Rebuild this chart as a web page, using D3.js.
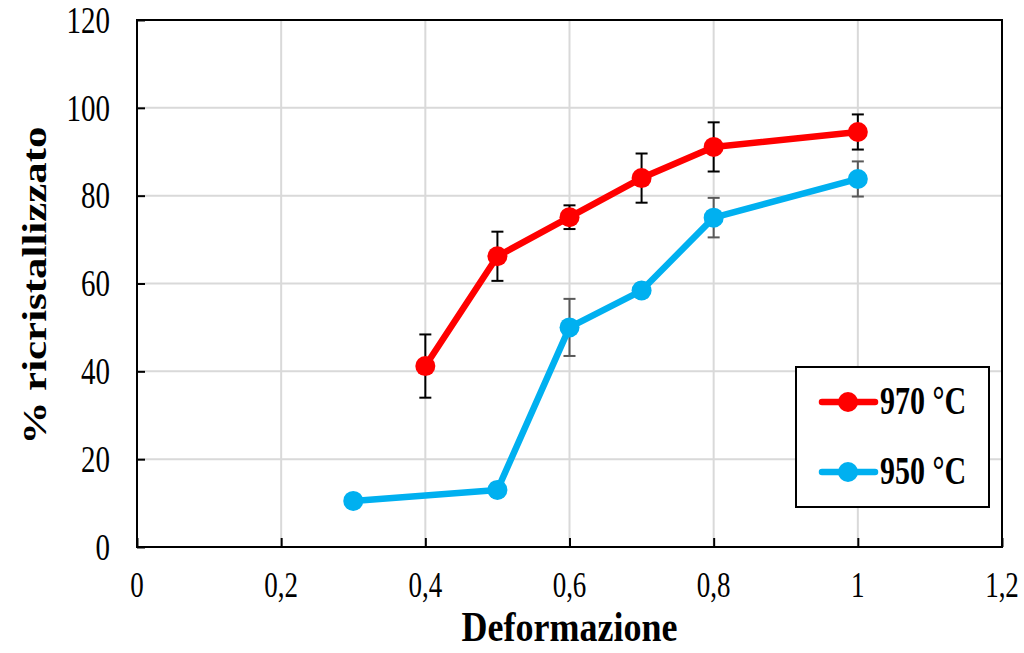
<!DOCTYPE html>
<html>
<head>
<meta charset="utf-8">
<script src="https://cdn.jsdelivr.net/npm/d3@7"></script>
<style>
  html, body { margin: 0; padding: 0; background: #fff; }
  svg { display: block; font-family: "Liberation Serif", "Times New Roman", serif; }
</style>
</head>
<body>
<svg id="chart" width="1024" height="653"></svg>
<script>
// Recrystallised fraction vs. strain at two temperatures
const strain970 = [0.4, 0.5, 0.6, 0.7, 0.8, 1.0];
const recr970   = [41.2, 66.2, 75.1, 84.0, 91.1, 94.5];
const err970    = [7.2, 5.6, 2.7, 5.6, 5.6, 4.0];

const strain950 = [0.3, 0.5, 0.6, 0.7, 0.8, 1.0];
const recr950   = [10.5, 13.0, 50.0, 58.4, 75.0, 83.8];
const err950    = [0, 1.6, 6.5, 1.6, 4.5, 4.0];

const xTicks = [0, 0.2, 0.4, 0.6, 0.8, 1.0, 1.2];
const yTicks = [0, 20, 40, 60, 80, 100, 120];

const seriesNames = ["970 °C", "950 °C"];
const seriesColors = ["#ff0000", "#00b0f0"];
const errColors = ["#000000", "#595959"];

// text is drawn slightly tall and narrow
const TALL = 1.3;

const svg = d3.select("#chart");
const m = { left: 137, right: 1002, top: 20, bottom: 547 };

const x = d3.scaleLinear().domain([0, 1.2]).range([m.left, m.right]);
const y = d3.scaleLinear().domain([0, 120]).range([m.bottom, m.top]);

// grid
const grid = svg.append("g");
grid.selectAll("line.gx").data(xTicks.slice(1, -1)).join("line")
  .attr("x1", d => x(d)).attr("x2", d => x(d))
  .attr("y1", m.top).attr("y2", m.bottom)
  .attr("stroke", "#d9d9d9").attr("stroke-width", 2);
grid.selectAll("line.gy").data(yTicks.slice(1, -1)).join("line")
  .attr("y1", d => y(d)).attr("y2", d => y(d))
  .attr("x1", m.left).attr("x2", m.right)
  .attr("stroke", "#d9d9d9").attr("stroke-width", 2);

// axes: inward tick marks, labels drawn separately below
const xAxis = svg.append("g").attr("transform", `translate(0,${m.bottom})`)
  .call(d3.axisBottom(x).tickValues(xTicks).tickSize(-9).tickFormat(""));
const yAxis = svg.append("g").attr("transform", `translate(${m.left},0)`)
  .call(d3.axisLeft(y).tickValues(yTicks).tickSize(-8).tickFormat(""));
[xAxis, yAxis].forEach(a => {
  a.select(".domain").remove();
  a.selectAll(".tick line").attr("stroke", "#000").attr("stroke-width", 2);
});

const fmtX = d => String(+d.toFixed(1)).replace(".", ",");
const xFs = 27, yFs = 29;
svg.append("g").selectAll("text").data(xTicks).join("text")
  .attr("transform", d => `translate(${x(d)},597) scale(1,${TALL})`)
  .attr("text-anchor", "middle").attr("font-size", xFs).text(fmtX);
svg.append("g").selectAll("text").data(yTicks).join("text")
  .attr("transform", d => `translate(110,${y(d) + 0.676 * yFs * TALL / 2}) scale(1,${TALL})`)
  .attr("text-anchor", "end").attr("font-size", yFs).text(d => d);

// frame
svg.append("rect")
  .attr("x", m.left).attr("y", m.top)
  .attr("width", m.right - m.left).attr("height", m.bottom - m.top)
  .attr("fill", "none").attr("stroke", "#000").attr("stroke-width", 2);

// axis titles
svg.append("text")
  .attr("transform", `translate(${(m.left + m.right) / 2},641) scale(1,1.15)`)
  .attr("text-anchor", "middle").attr("font-weight", "bold").attr("font-size", 36)
  .text("Deformazione");
svg.append("text")
  .attr("transform", `translate(46,${(m.top + m.bottom) / 2 + 2}) rotate(-90) scale(${TALL},1)`)
  .attr("text-anchor", "middle").attr("font-weight", "bold").attr("font-size", 33)
  .text("% ricristallizzato");

const series = [
  { xs: strain970, ys: recr970, es: err970 },
  { xs: strain950, ys: recr950, es: err950 }
];

const line = d3.line().x(d => x(d[0])).y(d => y(d[1]));

series.forEach((s, i) => {
  const pts = s.xs.map((v, k) => [v, s.ys[k], s.es[k]]);
  const g = svg.append("g");
  // error bars
  const eb = g.selectAll("g.err").data(pts.filter(p => p[2] > 0)).join("g")
    .attr("stroke", errColors[i]).attr("stroke-width", 2);
  eb.append("line")
    .attr("x1", p => x(p[0])).attr("x2", p => x(p[0]))
    .attr("y1", p => y(p[1] - p[2])).attr("y2", p => y(p[1] + p[2]));
  eb.append("line")
    .attr("x1", p => x(p[0]) - 6).attr("x2", p => x(p[0]) + 6)
    .attr("y1", p => y(p[1] + p[2])).attr("y2", p => y(p[1] + p[2]));
  eb.append("line")
    .attr("x1", p => x(p[0]) - 6).attr("x2", p => x(p[0]) + 6)
    .attr("y1", p => y(p[1] - p[2])).attr("y2", p => y(p[1] - p[2]));
  // line and markers
  g.append("path").datum(pts).attr("d", line)
    .attr("fill", "none").attr("stroke", seriesColors[i]).attr("stroke-width", 6.5)
    .attr("stroke-linejoin", "round");
  g.selectAll("circle").data(pts).join("circle")
    .attr("cx", p => x(p[0])).attr("cy", p => y(p[1])).attr("r", 10)
    .attr("fill", seriesColors[i]);
});

// legend
const lg = svg.append("g");
lg.append("rect").attr("x", 796).attr("y", 367).attr("width", 193).attr("height", 140)
  .attr("fill", "#fff").attr("stroke", "#000").attr("stroke-width", 2);
seriesNames.forEach((name, i) => {
  const cy = 402 + i * 70;
  lg.append("line").attr("x1", 822).attr("x2", 875).attr("y1", cy).attr("y2", cy)
    .attr("stroke", seriesColors[i]).attr("stroke-width", 6.5).attr("stroke-linecap", "round");
  lg.append("circle").attr("cx", 848).attr("cy", cy).attr("r", 10).attr("fill", seriesColors[i]);
  lg.append("text").attr("transform", `translate(880,${cy + 12}) scale(1,${TALL})`)
    .attr("font-weight", "bold").attr("font-size", 30).text(name);
});
</script>
</body>
</html>
